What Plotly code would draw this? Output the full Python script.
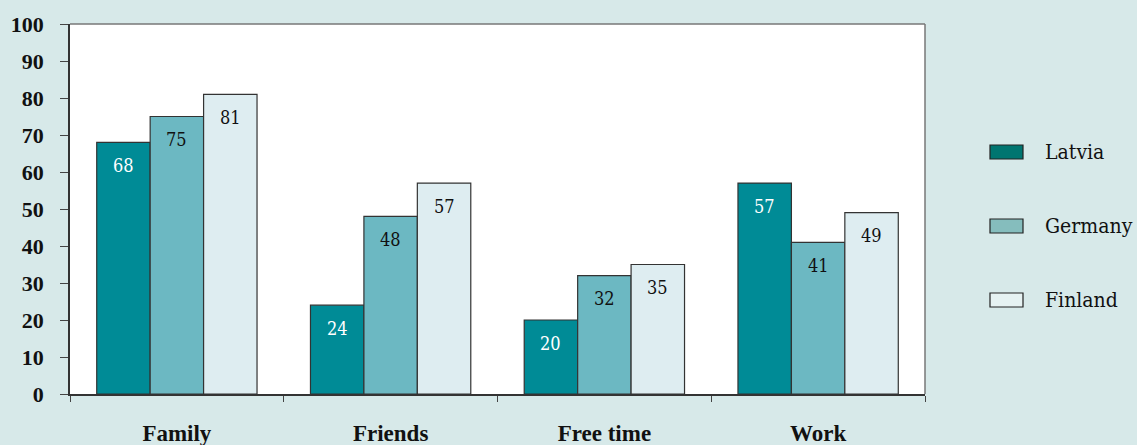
import plotly.graph_objects as go

categories = ["Family", "Friends", "Free time", "Work"]
latvia = [68, 24, 20, 57]
germany = [75, 48, 32, 41]
finland = [81, 57, 35, 49]
y_ticks = [0, 10, 20, 30, 40, 50, 60, 70, 80, 90, 100]

FONT_AXIS = "Liberation Serif"
FONT_TEXT = "DejaVu Serif Condensed"
BG = "#d7e9e9"
W, H = 1137, 445
ML, MR, MT, MB = 70, 212, 24, 51
BARGAP = 0.25

series = [
    # name, values, bar fill, label colour, legend swatch fill
    ("Latvia", latvia, "#008b96", "white", "#007570"),
    ("Germany", germany, "#6cb8c2", "#111111", "#85bdbd"),
    ("Finland", finland, "#deedf1", "#111111", "#e6f2f2"),
]

fig = go.Figure()
for name, vals, color, _, _ in series:
    fig.add_trace(go.Bar(
        name=name,
        x=categories,
        y=vals,
        marker=dict(color=color, line=dict(color="#333333", width=1.2)),
        showlegend=False,
    ))

# value labels placed just under the top of each bar
plot_w = W - ML - MR
bar_w = plot_w / len(categories) * (1 - BARGAP) / len(series)
annotations = []
for k, (name, vals, _, tcolor, _) in enumerate(series):
    shift = (k - (len(series) - 1) / 2) * bar_w
    for cat, v in zip(categories, vals):
        annotations.append(dict(
            x=cat, y=v, xref="x", yref="y",
            text=str(v), showarrow=False,
            xshift=shift, yshift=-23,
            font=dict(family=FONT_TEXT, size=18, color=tcolor),
        ))

# legend drawn as swatches and labels to the right of the plot
plot_h = H - MT - MB
legend_rows = [152, 226, 300]
shapes = [
    dict(type="line", xref="paper", yref="paper", x0=0, x1=1, y0=1, y1=1,
         line=dict(color="#777777", width=1.5)),
    dict(type="line", xref="paper", yref="paper", x0=1, x1=1, y0=0, y1=1,
         line=dict(color="#777777", width=1.5)),
]
for (name, _, _, _, swatch), py in zip(series, legend_rows):
    yc = (H - MB - py) / plot_h
    dy = 7 / plot_h
    shapes.append(dict(
        type="rect", xref="paper", yref="paper",
        x0=(990 - ML) / plot_w, x1=(1023 - ML) / plot_w,
        y0=yc - dy, y1=yc + dy,
        fillcolor=swatch, line=dict(color="#222222", width=1.2),
    ))
    annotations.append(dict(
        x=(1043 - ML) / plot_w, y=yc, xref="paper", yref="paper",
        xanchor="left", yanchor="middle", showarrow=False,
        text=name, font=dict(family=FONT_TEXT, size=21, color="#111111"),
    ))

fig.update_layout(
    width=W,
    height=H,
    barmode="group",
    bargap=BARGAP,
    bargroupgap=0,
    paper_bgcolor=BG,
    plot_bgcolor="white",
    margin=dict(l=ML, r=MR, t=MT, b=MB, autoexpand=False),
    font=dict(family=FONT_TEXT, size=20, color="#111111"),
    showlegend=False,
    xaxis=dict(
        type="category",
        automargin=False,
        tickson="boundaries",
        ticks="outside",
        ticklen=6,
        tickcolor="#444444",
        showline=True,
        linecolor="#333333",
        linewidth=1.5,
        showgrid=False,
        tickfont=dict(family=FONT_AXIS, size=23, color="#111111", weight="bold"),
        ticklabelstandoff=18,
    ),
    yaxis=dict(
        range=[0, 100],
        automargin=False,
        tickvals=y_ticks,
        ticks="outside",
        ticklen=8,
        tickcolor="#444444",
        showline=True,
        linecolor="#333333",
        linewidth=1.5,
        showgrid=False,
        zeroline=False,
        tickfont=dict(family=FONT_AXIS, size=22, color="#111111", weight="bold"),
        ticklabelstandoff=12,
    ),
    shapes=shapes,
    annotations=annotations,
)

fig.write_html("out.html")
